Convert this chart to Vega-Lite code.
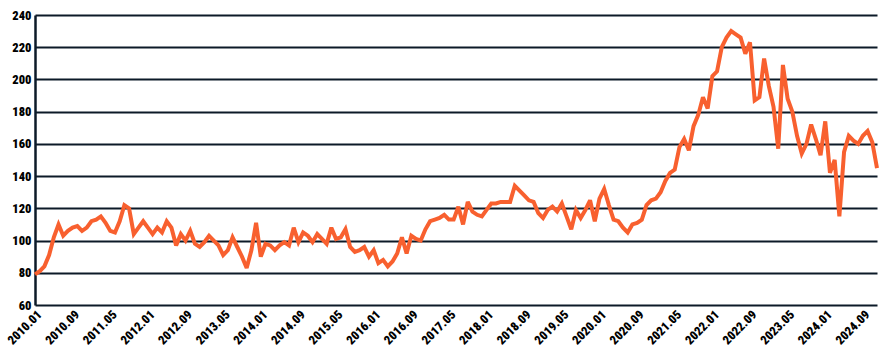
{
  "$schema": "https://vega.github.io/schema/vega-lite/v6.json",
  "width": 842,
  "height": 290,
  "autosize": {"type": "none"},
  "padding": {"left": 35, "top": 15, "right": 8, "bottom": 48},
  "background": "white",
  "config": {"view": {"stroke": null}},
  "data": {"values": [
    {"d":"2010.01","v":79},{"d":"2010.02","v":81},{"d":"2010.03","v":84},{"d":"2010.04","v":91},{"d":"2010.05","v":102},{"d":"2010.06","v":110},{"d":"2010.07","v":103},{"d":"2010.08","v":106},{"d":"2010.09","v":108},{"d":"2010.10","v":109},{"d":"2010.11","v":106},{"d":"2010.12","v":108},
    {"d":"2011.01","v":112},{"d":"2011.02","v":113},{"d":"2011.03","v":115},{"d":"2011.04","v":111},{"d":"2011.05","v":106},{"d":"2011.06","v":105},{"d":"2011.07","v":112},{"d":"2011.08","v":122},{"d":"2011.09","v":120},{"d":"2011.10","v":104},{"d":"2011.11","v":108},{"d":"2011.12","v":112},
    {"d":"2012.01","v":108},{"d":"2012.02","v":104},{"d":"2012.03","v":108},{"d":"2012.04","v":105},{"d":"2012.05","v":112},{"d":"2012.06","v":108},{"d":"2012.07","v":97},{"d":"2012.08","v":104},{"d":"2012.09","v":100},{"d":"2012.10","v":106},{"d":"2012.11","v":98},{"d":"2012.12","v":96},
    {"d":"2013.01","v":99},{"d":"2013.02","v":103},{"d":"2013.03","v":100},{"d":"2013.04","v":97},{"d":"2013.05","v":91},{"d":"2013.06","v":94},{"d":"2013.07","v":102},{"d":"2013.08","v":96},{"d":"2013.09","v":90},{"d":"2013.10","v":83},{"d":"2013.11","v":94},{"d":"2013.12","v":111},
    {"d":"2014.01","v":90},{"d":"2014.02","v":98},{"d":"2014.03","v":97},{"d":"2014.04","v":94},{"d":"2014.05","v":97},{"d":"2014.06","v":99},{"d":"2014.07","v":97},{"d":"2014.08","v":108},{"d":"2014.09","v":99},{"d":"2014.10","v":105},{"d":"2014.11","v":103},{"d":"2014.12","v":99},
    {"d":"2015.01","v":104},{"d":"2015.02","v":101},{"d":"2015.03","v":98},{"d":"2015.04","v":108},{"d":"2015.05","v":101},{"d":"2015.06","v":102},{"d":"2015.07","v":107},{"d":"2015.08","v":96},{"d":"2015.09","v":93},{"d":"2015.10","v":94},{"d":"2015.11","v":96},{"d":"2015.12","v":90},
    {"d":"2016.01","v":94},{"d":"2016.02","v":86},{"d":"2016.03","v":88},{"d":"2016.04","v":84},{"d":"2016.05","v":87},{"d":"2016.06","v":92},{"d":"2016.07","v":102},{"d":"2016.08","v":92},{"d":"2016.09","v":103},{"d":"2016.10","v":101},{"d":"2016.11","v":100},{"d":"2016.12","v":107},
    {"d":"2017.01","v":112},{"d":"2017.02","v":113},{"d":"2017.03","v":114},{"d":"2017.04","v":116},{"d":"2017.05","v":113},{"d":"2017.06","v":113},{"d":"2017.07","v":121},{"d":"2017.08","v":110},{"d":"2017.09","v":124},{"d":"2017.10","v":118},{"d":"2017.11","v":116},{"d":"2017.12","v":115},
    {"d":"2018.01","v":119},{"d":"2018.02","v":123},{"d":"2018.03","v":123},{"d":"2018.04","v":124},{"d":"2018.05","v":124},{"d":"2018.06","v":124},{"d":"2018.07","v":134},{"d":"2018.08","v":131},{"d":"2018.09","v":128},{"d":"2018.10","v":125},{"d":"2018.11","v":124},{"d":"2018.12","v":117},
    {"d":"2019.01","v":114},{"d":"2019.02","v":119},{"d":"2019.03","v":121},{"d":"2019.04","v":118},{"d":"2019.05","v":123},{"d":"2019.06","v":115},{"d":"2019.07","v":107},{"d":"2019.08","v":119},{"d":"2019.09","v":114},{"d":"2019.10","v":119},{"d":"2019.11","v":125},{"d":"2019.12","v":112},
    {"d":"2020.01","v":126},{"d":"2020.02","v":132},{"d":"2020.03","v":122},{"d":"2020.04","v":113},{"d":"2020.05","v":112},{"d":"2020.06","v":108},{"d":"2020.07","v":105},{"d":"2020.08","v":110},{"d":"2020.09","v":111},{"d":"2020.10","v":113},{"d":"2020.11","v":122},{"d":"2020.12","v":125},
    {"d":"2021.01","v":126},{"d":"2021.02","v":130},{"d":"2021.03","v":137},{"d":"2021.04","v":142},{"d":"2021.05","v":144},{"d":"2021.06","v":158},{"d":"2021.07","v":163},{"d":"2021.08","v":156},{"d":"2021.09","v":171},{"d":"2021.10","v":178},{"d":"2021.11","v":189},{"d":"2021.12","v":182},
    {"d":"2022.01","v":202},{"d":"2022.02","v":205},{"d":"2022.03","v":220},{"d":"2022.04","v":226},{"d":"2022.05","v":230},{"d":"2022.06","v":228},{"d":"2022.07","v":226},{"d":"2022.08","v":216},{"d":"2022.09","v":223},{"d":"2022.10","v":187},{"d":"2022.11","v":189},{"d":"2022.12","v":213},
    {"d":"2023.01","v":196},{"d":"2023.02","v":183},{"d":"2023.03","v":157},{"d":"2023.04","v":209},{"d":"2023.05","v":188},{"d":"2023.06","v":180},{"d":"2023.07","v":165},{"d":"2023.08","v":154},{"d":"2023.09","v":160},{"d":"2023.10","v":172},{"d":"2023.11","v":163},{"d":"2023.12","v":153},
    {"d":"2024.01","v":174},{"d":"2024.02","v":142},{"d":"2024.03","v":150},{"d":"2024.04","v":115},{"d":"2024.05","v":155},{"d":"2024.06","v":165},{"d":"2024.07","v":162},{"d":"2024.08","v":160},{"d":"2024.09","v":165},{"d":"2024.10","v":168},{"d":"2024.11","v":161},{"d":"2024.12","v":145}
  ]},
  "mark": {"type": "line", "color": "#f8602f", "strokeWidth": 4, "strokeJoin": "miter", "strokeMiterLimit": 3},
  "encoding": {
    "x": {
      "field": "d", "type": "ordinal", "sort": null,
      "scale": {"type": "point", "padding": 0},
      "axis": {
        "title": null,
        "values": ["2010.01","2010.09","2011.05","2012.01","2012.09","2013.05","2014.01","2014.09","2015.05","2016.01","2016.09","2017.05","2018.01","2018.09","2019.05","2020.01","2020.09","2021.05","2022.01","2022.09","2023.05","2024.01","2024.09"],
        "labelAngle": -45,
        "labelFont": "Liberation Sans Narrow, Roboto Condensed, DejaVu Sans Condensed, sans-serif",
        "labelFontWeight": 900,
        "labelFontSize": 12.5,
        "labelColor": "#000000",
        "labelPadding": 3,
        "labelOverlap": false,
        "ticks": false,
        "domain": false,
        "grid": false
      }
    },
    "y": {
      "field": "v", "type": "quantitative",
      "scale": {"domain": [60, 240], "nice": false, "zero": false},
      "axis": {
        "title": null,
        "values": [60, 80, 100, 120, 140, 160, 180, 200, 220, 240],
        "labelFont": "Liberation Sans Narrow, Roboto Condensed, DejaVu Sans Condensed, sans-serif",
        "labelFontWeight": 900,
        "labelFontSize": 12.5,
        "labelColor": "#000000",
        "labelPadding": 4,
        "ticks": false,
        "domain": true,
        "domainColor": "#0c1a28",
        "domainWidth": 2.5,
        "grid": true,
        "gridColor": "#0c1a28",
        "gridWidth": 2,
        "gridOpacity": 1
      }
    }
  }
}
